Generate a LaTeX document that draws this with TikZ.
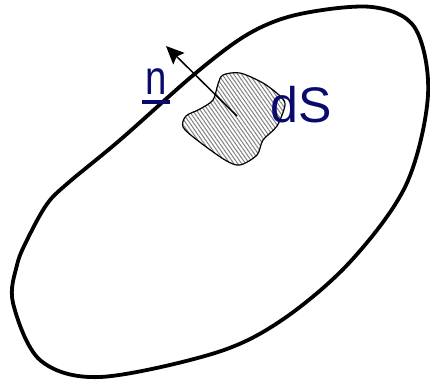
\documentclass[tikz,border=0pt]{standalone}
\usepackage{fontspec}
\setmainfont{Liberation Sans}
\usetikzlibrary{arrows.meta,patterns.meta}
\definecolor{labelblue}{RGB}{10,10,110}
\tikzset{
  outline/.style={line width=3.8pt, line join=round},
  patch/.style={line width=1.2pt, pattern={Lines[angle=-55,distance=3.2pt,line width=1pt]}, pattern color=gray},
  normal/.style={line width=1.5pt, -{Stealth[length=18pt,width=16pt,inset=3pt]}},
  lbl/.style={text=labelblue, inner sep=0pt, font=\fontsize{48}{48}\selectfont}
}
\begin{document}
\begin{tikzpicture}[x=1pt,y=-1pt]
\useasboundingbox (0,0) rectangle (430,382);
% outer closed surface
\draw[outline] plot[smooth cycle, tension=0.55] coordinates {
  (372,7) (415,28) (428,95) (406,185) (350,262) (282,320) (215,353)
  (100,377) (40,360) (13,303) (17,265) (28,238) (47,204) (68,183)
  (120,140) (197,72) (250,33) (300,14)};
% surface element dS
\draw[patch] plot[smooth cycle, tension=0.5] coordinates {
  (223,75) (240,73) (263,83) (280,96) (285,105) (277,126) (263,140)
  (257,155) (240,165) (225,160) (197,140) (183,127) (186,116) (200,109)
  (213,100) (218,84)};
% normal vector
\coordinate (c) at (237,116);
\coordinate (tip) at (166,46);
\draw[normal] (c) -- (tip);
% labels
\node[lbl, anchor=base] (nlbl) at (156,95) {\scalebox{0.8}[1]{n}};
\draw[labelblue, line width=3.8pt] ([xshift=-3pt,yshift=-7pt]nlbl.base west) -- ([xshift=3pt,yshift=-7pt]nlbl.base east);
\node[lbl, anchor=base, font=\fontsize{50}{50}\selectfont] (ds) at (301,123) {dS};
\end{tikzpicture}
\end{document}
